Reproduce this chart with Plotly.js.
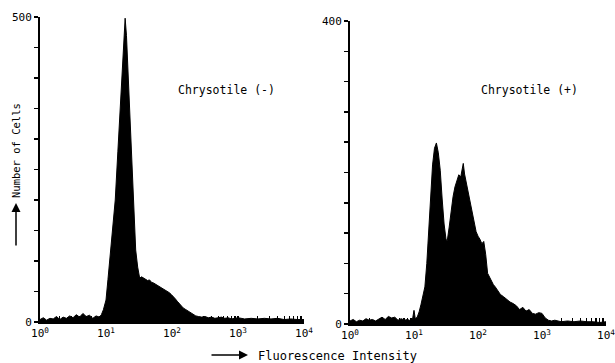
<!DOCTYPE html>
<html>
<head>
<meta charset="utf-8">
<script src="https://cdn.plot.ly/plotly-3.0.1.min.js"></script>
<style>html,body{margin:0;padding:0;background:#fff;}#chart{width:615px;height:363px;}</style>
</head>
<body>
<div id="chart"></div>
<script>
// Channel positions in log10(fluorescence) and cell counts
const leftLog = [0.00,0.05,0.10,0.15,0.20,0.25,0.30,0.35,0.40,0.45,0.50,0.55,0.60,0.65,0.70,0.75,0.80,0.85,0.90,0.93,0.96,1.00,1.03,1.07,1.10,1.14,1.18,1.22,1.25,1.27,1.29,1.31,1.33,1.35,1.38,1.41,1.43,1.45,1.48,1.51,1.54,1.57,1.60,1.63,1.66,1.69,1.72,1.75,1.78,1.81,1.84,1.87,1.90,1.93,1.96,1.99,2.02,2.05,2.08,2.11,2.14,2.17,2.20,2.24,2.28,2.32,2.36,2.40,2.45,2.50,2.55,2.60,2.65,2.70,2.75,2.80,2.85,2.90,2.95,3.00,3.10,3.20,3.30,3.40,3.50,3.60,3.70,3.80,3.90,4.00];
const leftCounts = [4,7,3,6,5,9,4,8,6,10,7,12,8,14,9,11,6,10,8,12,20,36,70,118,155,200,280,364,430,475,498,470,420,364,280,200,150,118,90,72,74,72,70,68,69,65,64,62,60,58,57,55,53,51,48,45,42,38,34,30,27,23,21,18,15,12,10,9,8,9,7,8,6,7,8,6,7,5,6,7,5,6,5,6,5,6,4,5,4,4];

const rightLog = [0.00,0.05,0.10,0.15,0.20,0.25,0.30,0.35,0.40,0.45,0.50,0.55,0.60,0.65,0.70,0.75,0.80,0.85,0.90,0.95,0.98,1.00,1.02,1.05,1.08,1.11,1.14,1.17,1.20,1.23,1.26,1.29,1.32,1.35,1.38,1.41,1.44,1.47,1.50,1.52,1.55,1.58,1.61,1.64,1.67,1.70,1.73,1.75,1.77,1.79,1.82,1.85,1.88,1.91,1.94,1.97,2.00,2.03,2.06,2.09,2.12,2.15,2.18,2.21,2.24,2.27,2.31,2.35,2.40,2.45,2.50,2.55,2.60,2.65,2.70,2.75,2.80,2.85,2.90,2.95,3.00,3.05,3.10,3.15,3.20,3.30,3.40,3.50,3.60,3.70,3.80,3.90,4.00];
const rightCounts = [4,6,3,5,4,7,5,6,4,7,9,6,10,8,9,5,7,5,6,4,8,18,7,9,16,26,38,49,80,120,165,210,232,239,226,203,165,132,112,110,128,150,168,181,190,197,194,206,212,198,185,172,158,145,132,122,116,112,106,109,92,67,62,56,52,49,44,39,36,32,29,27,24,19,22,17,19,14,13,15,14,8,5,4,5,3,4,3,4,3,3,2,3];

const decadeLabels = ['10<sup>0</sup>', '10<sup>1</sup>', '10<sup>2</sup>', '10<sup>3</sup>', '10<sup>4</sup>'];
const leftYMax = 500, leftYStep = 50;
const rightYMax = 400, rightYStep = 40;
const panelLabels = ['Chrysotile (-)', 'Chrysotile (+)'];
const yTitle = 'Number of Cells';
const xTitle = 'Fluorescence Intensity';

// x ticks: every integer multiple within each decade, labels only on decades
const xTickVals = [], xTickText = [];
for (let d = 0; d <= 4; d++) {
  for (let m = 1; m <= (d === 4 ? 1 : 9); m++) {
    xTickVals.push(m * Math.pow(10, d));
    xTickText.push(m === 1 ? decadeLabels[d] : '');
  }
}
function yTicks(max, step) {
  const vals = [], text = [];
  for (let v = 0; v <= max; v += step) { vals.push(v); text.push(v === 0 || v === max ? String(v) : ''); }
  return {vals, text};
}
const leftYT = yTicks(leftYMax, leftYStep);
const rightYT = yTicks(rightYMax, rightYStep);

const W = 615, H = 363;
const px = v => v / W;
const py = v => 1 - v / H;
const mono = 'DejaVu Sans Mono, monospace';

const histStyle = {
  type: 'scatter', mode: 'lines', fill: 'tozeroy',
  fillcolor: '#000', line: {color: '#000', width: 1}, hoverinfo: 'skip'
};

const traces = [
  Object.assign({}, histStyle, {x: leftLog.map(v => Math.pow(10, v)), y: leftCounts, xaxis: 'x', yaxis: 'y'}),
  Object.assign({}, histStyle, {x: rightLog.map(v => Math.pow(10, v)), y: rightCounts, xaxis: 'x2', yaxis: 'y2'})
];

function xAxis(d0, d1, anchor) {
  return {
    domain: [px(d0), px(d1)], anchor: anchor, type: 'log', range: [0, 4],
    showline: true, linecolor: '#000', linewidth: 2, showgrid: false, zeroline: false,
    ticks: 'inside', ticklen: 6, tickwidth: 1.2, tickcolor: '#000', layer: 'above traces',
    tickmode: 'array', tickvals: xTickVals, ticktext: xTickText,
    ticklabeloverflow: 'allow',
    tickfont: {family: mono, size: 11, color: '#000'},
    fixedrange: true
  };
}
function yAxis(top, bottom, max, t, anchor) {
  return {
    domain: [py(bottom), py(top)], anchor: anchor, range: [0, max],
    showline: true, linecolor: '#000', linewidth: 2, showgrid: false, zeroline: false,
    ticks: 'outside', ticklen: 4, tickwidth: 1.5, tickcolor: '#000',
    tickmode: 'array', tickvals: t.vals, ticktext: t.text,
    tickfont: {family: mono, size: 11, color: '#000'},
    fixedrange: true
  };
}

const layout = {
  width: W, height: H,
  margin: {l: 0, r: 0, t: 0, b: 0},
  paper_bgcolor: '#fff', plot_bgcolor: '#fff',
  showlegend: false,
  xaxis: xAxis(40, 304, 'y'),
  yaxis: yAxis(17, 322, leftYMax, leftYT, 'x'),
  xaxis2: xAxis(350, 606, 'y2'),
  yaxis2: yAxis(21, 324, rightYMax, rightYT, 'x2'),
  annotations: [
    {xref: 'paper', yref: 'paper', x: px(227), y: py(90), text: panelLabels[0], showarrow: false,
     font: {family: mono, size: 11.5, color: '#000'}, xanchor: 'center', yanchor: 'middle'},
    {xref: 'paper', yref: 'paper', x: px(529), y: py(90), text: panelLabels[1], showarrow: false,
     font: {family: mono, size: 11.5, color: '#000'}, xanchor: 'center', yanchor: 'middle'},
    {xref: 'paper', yref: 'paper', x: px(16), y: py(151), text: yTitle, textangle: -90, showarrow: false,
     font: {family: mono, size: 10.5, color: '#000'}, xanchor: 'center', yanchor: 'middle'},
    {xref: 'paper', yref: 'paper', x: px(16), y: py(203), text: '', showarrow: true, ax: 0, ay: 44,
     arrowhead: 2, arrowsize: 1.2, arrowwidth: 1.5, arrowcolor: '#000'},
    {xref: 'paper', yref: 'paper', x: px(337), y: py(356), text: xTitle, showarrow: false,
     font: {family: mono, size: 12, color: '#000'}, xanchor: 'center', yanchor: 'middle'},
    {xref: 'paper', yref: 'paper', x: px(248), y: py(355), text: '', showarrow: true, ax: -38, ay: 0,
     arrowhead: 2, arrowsize: 1.2, arrowwidth: 1.5, arrowcolor: '#000'}
  ]
};

Plotly.newPlot('chart', traces, layout, {displayModeBar: false, staticPlot: true});
</script>
</body>
</html>
